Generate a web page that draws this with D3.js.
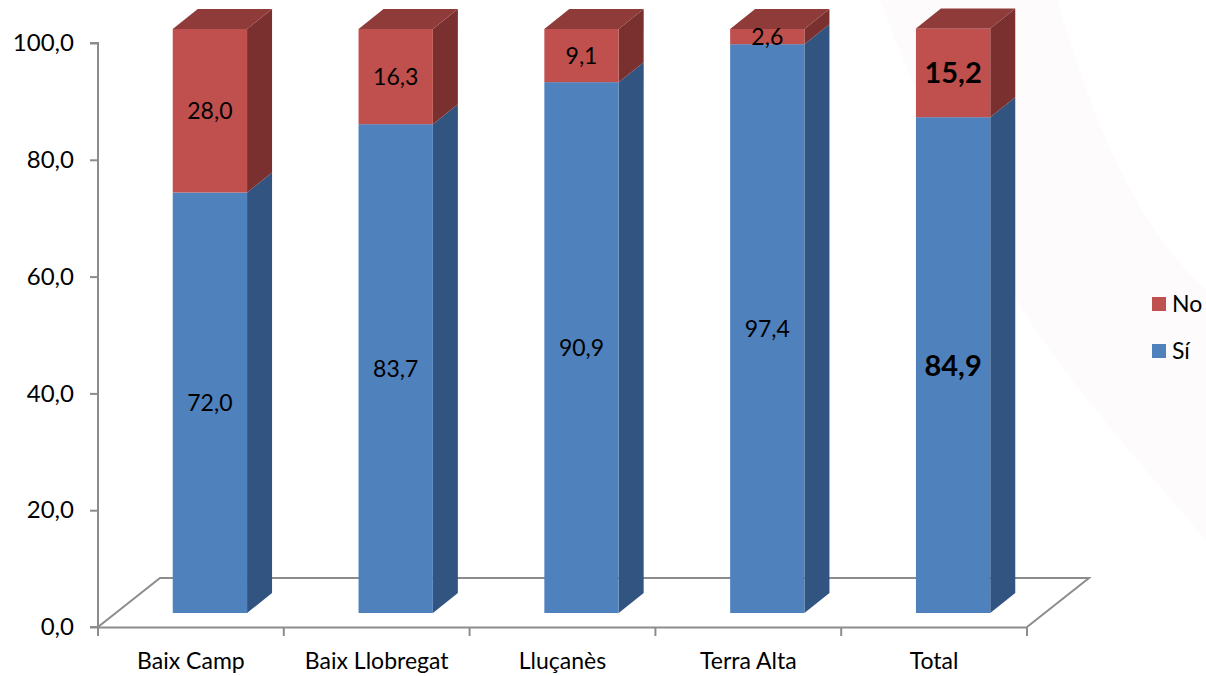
<!DOCTYPE html>
<html>
<head>
<meta charset="utf-8">
<script src="https://cdn.jsdelivr.net/npm/d3@7/dist/d3.min.js"></script>
<style>
  html, body { margin: 0; padding: 0; background: #ffffff; }
  svg { display: block; }
  text { font-family: Lato, "Open Sans", sans-serif; fill: #000; }
</style>
</head>
<body>
<svg id="chart" width="1206" height="676"></svg>
<script>
// ---- data ----
const categories = ["Baix Camp", "Baix Llobregat", "Lluçanès", "Terra Alta", "Total"];
const siValues = [72.0, 83.7, 90.9, 97.4, 84.9];
const noValues = [28.0, 16.3, 9.1, 2.6, 15.2];
const yTickValues = [0, 20, 40, 60, 80, 100];
const seriesNames = ["No", "Sí"];

// ---- setup ----
const svg = d3.select("#chart");
const locale = d3.formatLocale({ decimal: ",", thousands: ".", grouping: [3], currency: ["", "€"] });
const fmt = locale.format(".1f");

const x0 = 98, x1 = 1027, yBase = 627, yTop = 43;
const x = d3.scaleBand().domain(categories).range([x0, x1]).paddingInner(0.6).paddingOuter(0.3);
const y = d3.scaleLinear().domain([0, 100]).range([yBase, yTop]);

// depth geometry (3D look)
const floorDx = 62, floorDy = -49;
const barShiftX = 19, barShiftY = -14;
const barDx = 25, barDy = -20;

// faint background decoration
svg.append("path")
  .attr("d", "M 880,0 L 1057,0 C 1090,110 1130,220 1206,290 L 1206,540 C 1120,440 1040,350 1000,270 C 950,170 910,80 880,0 Z")
  .attr("fill", "#fdfbfc");

const axisColor = "#8c8c8c";

// floor
svg.append("path")
  .attr("fill", "none").attr("stroke", axisColor).attr("stroke-width", 2)
  .attr("d", `M${x0},${yBase} L${x0 + floorDx},${yBase + floorDy} L${x1 + floorDx},${yBase + floorDy} L${x1},${yBase}`);

// y axis
const yAxis = d3.axisLeft(y).tickValues(yTickValues).tickSize(8).tickPadding(16).tickFormat(fmt);
const gy = svg.append("g").attr("transform", `translate(${x0},0)`).call(yAxis);
gy.select(".domain").attr("stroke", axisColor).attr("stroke-width", 2).attr("d", `M-8,${yTop}H0V${yBase}H-8`);
gy.selectAll(".tick line").attr("stroke", axisColor).attr("stroke-width", 2);
gy.selectAll(".tick text").attr("font-size", 24).attr("font-family", "Lato, 'Open Sans', sans-serif").attr("fill", "#000");

// x axis
const xAxis = d3.axisBottom(x).tickSize(0).tickPadding(26);
const gx = svg.append("g").attr("transform", `translate(0,${yBase})`).call(xAxis);
gx.select(".domain").attr("stroke", axisColor).attr("stroke-width", 2);
gx.selectAll(".tick text").attr("font-size", 23).attr("font-family", "Lato, 'Open Sans', sans-serif").attr("fill", "#000");
const bounds = d3.range(categories.length + 1).map(i => x0 + i * x.step());
gx.selectAll(".btick").data(bounds).enter().append("line")
  .attr("x1", d => d).attr("x2", d => d).attr("y1", 0).attr("y2", 9)
  .attr("stroke", axisColor).attr("stroke-width", 2);

// bars
const colors = {
  si: { front: "#4f81bd", side: "#325480", top: "#3c6496" },
  no: { front: "#c0504d", side: "#7a302e", top: "#8f3b39" }
};

const bars = svg.append("g");
categories.forEach((cat, i) => {
  const bx0 = x(cat) + barShiftX;
  const bx1 = bx0 + x.bandwidth();
  const segs = [
    { key: "si", from: 0, to: siValues[i], val: siValues[i] },
    { key: "no", from: siValues[i], to: siValues[i] + noValues[i], val: noValues[i] }
  ];
  const g = bars.append("g");
  segs.forEach((s, j) => {
    const yb = y(s.from) + barShiftY;
    const yt = y(s.to) + barShiftY;
    const c = colors[s.key];
    g.append("path")
      .attr("d", `M${bx1},${yb} L${bx1 + barDx},${yb + barDy} L${bx1 + barDx},${yt + barDy} L${bx1},${yt} Z`)
      .attr("fill", c.side);
    g.append("rect")
      .attr("x", bx0).attr("y", yt).attr("width", bx1 - bx0).attr("height", yb - yt)
      .attr("fill", c.front);
    if (j === segs.length - 1) {
      g.append("path")
        .attr("d", `M${bx0},${yt} L${bx0 + barDx},${yt + barDy} L${bx1 + barDx},${yt + barDy} L${bx1},${yt} Z`)
        .attr("fill", c.top);
    }
  });
  const isTotal = cat === "Total";
  segs.forEach(s => {
    const ym = (y(s.from) + y(s.to)) / 2 + barShiftY;
    g.append("text")
      .attr("x", (bx0 + bx1) / 2)
      .attr("y", ym)
      .attr("dy", "0.36em")
      .attr("text-anchor", "middle")
      .attr("font-size", isTotal ? 29 : 23)
      .attr("font-weight", isTotal ? "bold" : "normal")
      .text(fmt(s.val));
  });
});

// legend
const legend = svg.append("g");
const legendItems = [
  { name: seriesNames[0], color: colors.no.front, y: 304 },
  { name: seriesNames[1], color: colors.si.front, y: 351 }
];
legendItems.forEach(it => {
  legend.append("rect").attr("x", 1152).attr("y", it.y - 7).attr("width", 14).attr("height", 14).attr("fill", it.color);
  legend.append("text").attr("x", 1172).attr("y", it.y).attr("dy", "0.36em").attr("font-size", 23).text(it.name);
});
</script>
</body>
</html>
